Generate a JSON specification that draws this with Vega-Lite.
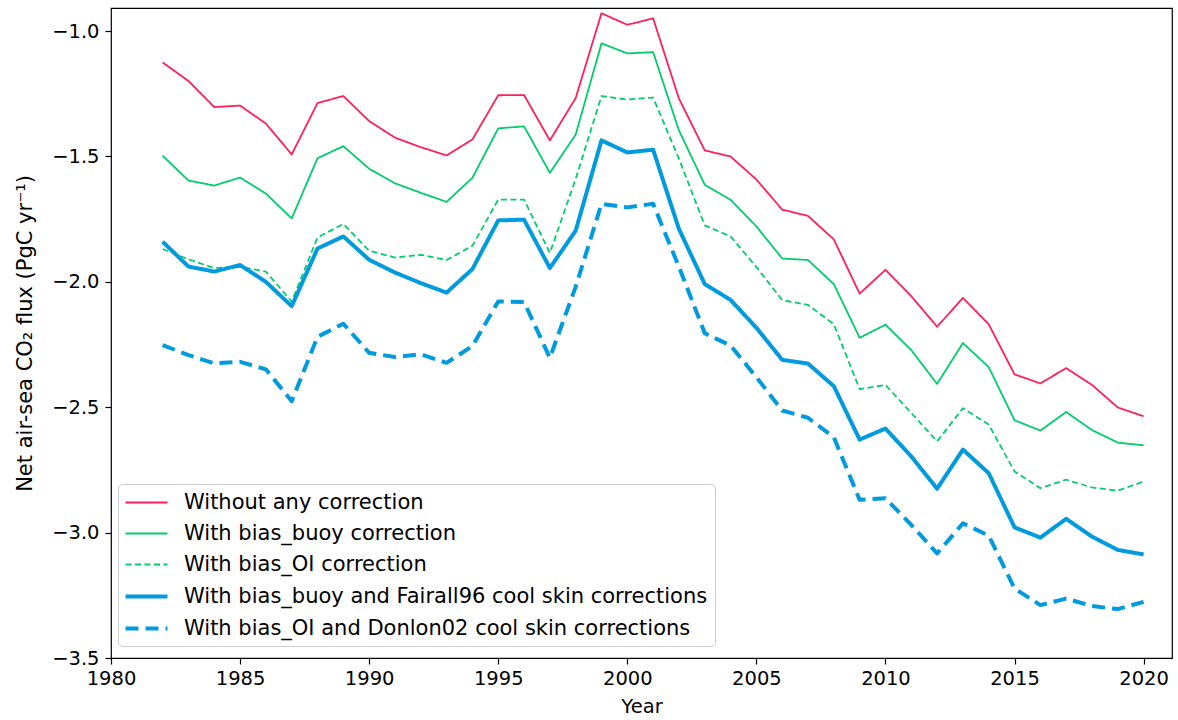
{
  "$schema": "https://vega.github.io/schema/vega-lite/v6.json",
  "width": 1061,
  "height": 650,
  "autosize": {"type": "none"},
  "padding": {"left": 111, "top": 8, "right": 6, "bottom": 62},
  "background": "white",
  "config": {
    "font": "DejaVu Sans",
    "view": {"stroke": "black", "strokeWidth": 1.2},
    "axis": {"grid": false, "domain": false, "tickColor": "black", "tickSize": 6, "tickWidth": 1.2, "labelColor": "black", "titleColor": "black", "labelFontSize": 19.5, "titleFontSize": 19.5, "titleFontWeight": "normal", "labelFont": "DejaVu Sans", "titleFont": "DejaVu Sans"}
  },
  "data": {"values": [
    {"year":1982,"series":"A","value":-1.125},{"year":1982,"series":"B","value":-1.497},{"year":1982,"series":"C","value":-1.869},{"year":1982,"series":"D","value":-1.840},{"year":1982,"series":"E","value":-2.252},
    {"year":1983,"series":"A","value":-1.199},{"year":1983,"series":"B","value":-1.596},{"year":1983,"series":"C","value":-1.910},{"year":1983,"series":"D","value":-1.939},{"year":1983,"series":"E","value":-2.292},
    {"year":1984,"series":"A","value":-1.303},{"year":1984,"series":"B","value":-1.616},{"year":1984,"series":"C","value":-1.945},{"year":1984,"series":"D","value":-1.959},{"year":1984,"series":"E","value":-2.325},
    {"year":1985,"series":"A","value":-1.297},{"year":1985,"series":"B","value":-1.584},{"year":1985,"series":"C","value":-1.940},{"year":1985,"series":"D","value":-1.933},{"year":1985,"series":"E","value":-2.319},
    {"year":1986,"series":"A","value":-1.369},{"year":1986,"series":"B","value":-1.648},{"year":1986,"series":"C","value":-1.959},{"year":1986,"series":"D","value":-2.000},{"year":1986,"series":"E","value":-2.349},
    {"year":1987,"series":"A","value":-1.492},{"year":1987,"series":"B","value":-1.747},{"year":1987,"series":"C","value":-2.079},{"year":1987,"series":"D","value":-2.097},{"year":1987,"series":"E","value":-2.476},
    {"year":1988,"series":"A","value":-1.287},{"year":1988,"series":"B","value":-1.507},{"year":1988,"series":"C","value":-1.823},{"year":1988,"series":"D","value":-1.867},{"year":1988,"series":"E","value":-2.219},
    {"year":1989,"series":"A","value":-1.259},{"year":1989,"series":"B","value":-1.459},{"year":1989,"series":"C","value":-1.769},{"year":1989,"series":"D","value":-1.819},{"year":1989,"series":"E","value":-2.167},
    {"year":1990,"series":"A","value":-1.359},{"year":1990,"series":"B","value":-1.549},{"year":1990,"series":"C","value":-1.876},{"year":1990,"series":"D","value":-1.912},{"year":1990,"series":"E","value":-2.283},
    {"year":1991,"series":"A","value":-1.425},{"year":1991,"series":"B","value":-1.607},{"year":1991,"series":"C","value":-1.903},{"year":1991,"series":"D","value":-1.963},{"year":1991,"series":"E","value":-2.300},
    {"year":1992,"series":"A","value":-1.463},{"year":1992,"series":"B","value":-1.645},{"year":1992,"series":"C","value":-1.892},{"year":1992,"series":"D","value":-2.005},{"year":1992,"series":"E","value":-2.289},
    {"year":1993,"series":"A","value":-1.496},{"year":1993,"series":"B","value":-1.681},{"year":1993,"series":"C","value":-1.913},{"year":1993,"series":"D","value":-2.043},{"year":1993,"series":"E","value":-2.323},
    {"year":1994,"series":"A","value":-1.432},{"year":1994,"series":"B","value":-1.585},{"year":1994,"series":"C","value":-1.856},{"year":1994,"series":"D","value":-1.949},{"year":1994,"series":"E","value":-2.256},
    {"year":1995,"series":"A","value":-1.256},{"year":1995,"series":"B","value":-1.388},{"year":1995,"series":"C","value":-1.672},{"year":1995,"series":"D","value":-1.755},{"year":1995,"series":"E","value":-2.078},
    {"year":1996,"series":"A","value":-1.255},{"year":1996,"series":"B","value":-1.380},{"year":1996,"series":"C","value":-1.672},{"year":1996,"series":"D","value":-1.752},{"year":1996,"series":"E","value":-2.080},
    {"year":1997,"series":"A","value":-1.436},{"year":1997,"series":"B","value":-1.565},{"year":1997,"series":"C","value":-1.885},{"year":1997,"series":"D","value":-1.945},{"year":1997,"series":"E","value":-2.303},
    {"year":1998,"series":"A","value":-1.267},{"year":1998,"series":"B","value":-1.413},{"year":1998,"series":"C","value":-1.590},{"year":1998,"series":"D","value":-1.796},{"year":1998,"series":"E","value":-2.020},
    {"year":1999,"series":"A","value":-0.929},{"year":1999,"series":"B","value":-1.049},{"year":1999,"series":"C","value":-1.259},{"year":1999,"series":"D","value":-1.436},{"year":1999,"series":"E","value":-1.689},
    {"year":2000,"series":"A","value":-0.975},{"year":2000,"series":"B","value":-1.089},{"year":2000,"series":"C","value":-1.273},{"year":2000,"series":"D","value":-1.484},{"year":2000,"series":"E","value":-1.703},
    {"year":2001,"series":"A","value":-0.949},{"year":2001,"series":"B","value":-1.084},{"year":2001,"series":"C","value":-1.265},{"year":2001,"series":"D","value":-1.473},{"year":2001,"series":"E","value":-1.689},
    {"year":2002,"series":"A","value":-1.269},{"year":2002,"series":"B","value":-1.396},{"year":2002,"series":"C","value":-1.509},{"year":2002,"series":"D","value":-1.789},{"year":2002,"series":"E","value":-1.940},
    {"year":2003,"series":"A","value":-1.476},{"year":2003,"series":"B","value":-1.613},{"year":2003,"series":"C","value":-1.775},{"year":2003,"series":"D","value":-2.009},{"year":2003,"series":"E","value":-2.205},
    {"year":2004,"series":"A","value":-1.500},{"year":2004,"series":"B","value":-1.673},{"year":2004,"series":"C","value":-1.819},{"year":2004,"series":"D","value":-2.072},{"year":2004,"series":"E","value":-2.254},
    {"year":2005,"series":"A","value":-1.592},{"year":2005,"series":"B","value":-1.779},{"year":2005,"series":"C","value":-1.941},{"year":2005,"series":"D","value":-2.183},{"year":2005,"series":"E","value":-2.380},
    {"year":2006,"series":"A","value":-1.712},{"year":2006,"series":"B","value":-1.907},{"year":2006,"series":"C","value":-2.073},{"year":2006,"series":"D","value":-2.311},{"year":2006,"series":"E","value":-2.513},
    {"year":2007,"series":"A","value":-1.737},{"year":2007,"series":"B","value":-1.913},{"year":2007,"series":"C","value":-2.092},{"year":2007,"series":"D","value":-2.326},{"year":2007,"series":"E","value":-2.542},
    {"year":2008,"series":"A","value":-1.831},{"year":2008,"series":"B","value":-2.009},{"year":2008,"series":"C","value":-2.169},{"year":2008,"series":"D","value":-2.416},{"year":2008,"series":"E","value":-2.620},
    {"year":2009,"series":"A","value":-2.047},{"year":2009,"series":"B","value":-2.223},{"year":2009,"series":"C","value":-2.428},{"year":2009,"series":"D","value":-2.629},{"year":2009,"series":"E","value":-2.869},
    {"year":2010,"series":"A","value":-1.952},{"year":2010,"series":"B","value":-2.171},{"year":2010,"series":"C","value":-2.411},{"year":2010,"series":"D","value":-2.585},{"year":2010,"series":"E","value":-2.863},
    {"year":2011,"series":"A","value":-2.057},{"year":2011,"series":"B","value":-2.272},{"year":2011,"series":"C","value":-2.523},{"year":2011,"series":"D","value":-2.696},{"year":2011,"series":"E","value":-2.969},
    {"year":2012,"series":"A","value":-2.179},{"year":2012,"series":"B","value":-2.407},{"year":2012,"series":"C","value":-2.636},{"year":2012,"series":"D","value":-2.825},{"year":2012,"series":"E","value":-3.083},
    {"year":2013,"series":"A","value":-2.064},{"year":2013,"series":"B","value":-2.244},{"year":2013,"series":"C","value":-2.504},{"year":2013,"series":"D","value":-2.669},{"year":2013,"series":"E","value":-2.963},
    {"year":2014,"series":"A","value":-2.169},{"year":2014,"series":"B","value":-2.340},{"year":2014,"series":"C","value":-2.569},{"year":2014,"series":"D","value":-2.763},{"year":2014,"series":"E","value":-3.012},
    {"year":2015,"series":"A","value":-2.369},{"year":2015,"series":"B","value":-2.552},{"year":2015,"series":"C","value":-2.756},{"year":2015,"series":"D","value":-2.979},{"year":2015,"series":"E","value":-3.223},
    {"year":2016,"series":"A","value":-2.405},{"year":2016,"series":"B","value":-2.593},{"year":2016,"series":"C","value":-2.823},{"year":2016,"series":"D","value":-3.020},{"year":2016,"series":"E","value":-3.289},
    {"year":2017,"series":"A","value":-2.344},{"year":2017,"series":"B","value":-2.519},{"year":2017,"series":"C","value":-2.789},{"year":2017,"series":"D","value":-2.945},{"year":2017,"series":"E","value":-3.263},
    {"year":2018,"series":"A","value":-2.411},{"year":2018,"series":"B","value":-2.591},{"year":2018,"series":"C","value":-2.820},{"year":2018,"series":"D","value":-3.016},{"year":2018,"series":"E","value":-3.293},
    {"year":2019,"series":"A","value":-2.501},{"year":2019,"series":"B","value":-2.641},{"year":2019,"series":"C","value":-2.833},{"year":2019,"series":"D","value":-3.069},{"year":2019,"series":"E","value":-3.305},
    {"year":2020,"series":"A","value":-2.536},{"year":2020,"series":"B","value":-2.652},{"year":2020,"series":"C","value":-2.796},{"year":2020,"series":"D","value":-3.087},{"year":2020,"series":"E","value":-3.276}
  ]},
  "mark": {"type": "line", "strokeCap": "butt", "strokeJoin": "round"},
  "encoding": {
    "x": {"field": "year", "type": "quantitative", "title": "Year",
      "scale": {"domain": [1980, 2021.1], "nice": false, "zero": false},
      "axis": {"values": [1980, 1985, 1990, 1995, 2000, 2005, 2010, 2015, 2020], "format": "d", "labelPadding": 5, "titlePadding": 10, "labelFlush": false}},
    "y": {"field": "value", "type": "quantitative", "title": "Net air-sea CO₂ flux (PgC yr⁻¹)",
      "scale": {"domain": [-3.5, -0.908], "nice": false, "zero": false},
      "axis": {"values": [-3.5, -3.0, -2.5, -2.0, -1.5, -1.0], "format": ".1f", "labelPadding": 6, "titlePadding": 16, "titleFontSize": 21, "labelFlush": false}},
    "color": {"field": "series", "type": "nominal",
      "scale": {"domain": ["A", "B", "C", "D", "E"], "range": ["#FF1F5B", "#00CD6C", "#00CD6C", "#009ADE", "#009ADE"]},
      "legend": {
        "title": null, "orient": "none", "legendX": 7, "legendY": 476,
        "symbolType": "M-2,0H2", "symbolSize": 441, "symbolOffset": 9, "labelOffset": 25,
        "labelFontSize": 21, "labelFont": "DejaVu Sans", "labelColor": "black", "labelLimit": 0,
        "padding": 7, "rowPadding": 9, "cornerRadius": 4, "strokeColor": "#cccccc", "fillColor": "rgba(255,255,255,0.8)",
        "labelExpr": "{'A': 'Without any correction', 'B': 'With bias_buoy correction', 'C': 'With bias_OI correction', 'D': 'With bias_buoy and Fairall96 cool skin corrections', 'E': 'With bias_OI and Donlon02 cool skin corrections'}[datum.value]"
      }},
    "strokeDash": {"field": "series", "type": "nominal",
      "scale": {"domain": ["A", "B", "C", "D", "E"], "range": [[1, 0], [1, 0], [6, 3.5], [1, 0], [13, 7]]}},
    "strokeWidth": {"field": "series", "type": "nominal",
      "scale": {"type": "ordinal", "domain": ["A", "B", "C", "D", "E"], "range": [1.8, 1.8, 1.8, 4, 4]}}
  }
}
